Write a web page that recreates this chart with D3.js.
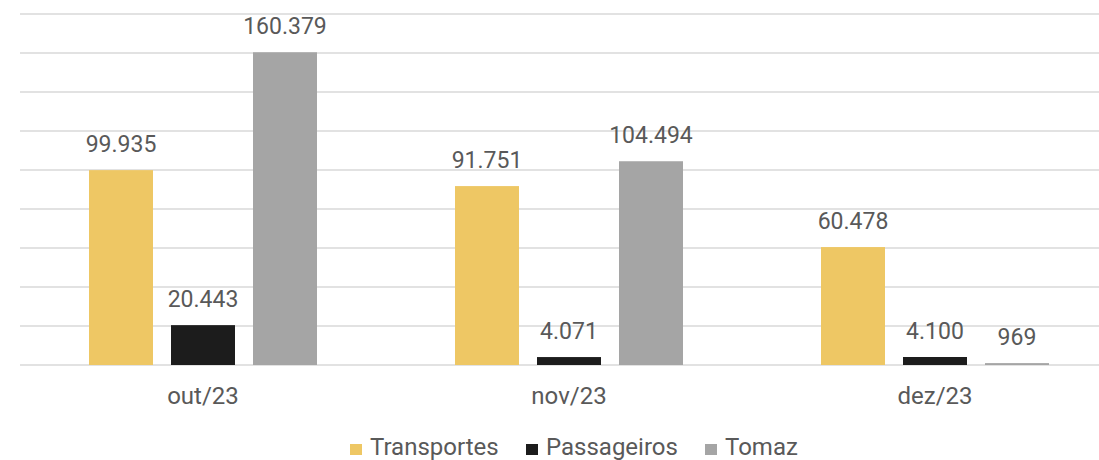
<!DOCTYPE html>
<meta charset="utf-8" />
<style>
  body { margin: 0; background: #fff; }
  text { font-family: Roboto, sans-serif; fill: #595959; }
  .grid line { stroke: #d9d9d9; stroke-width: 1.5px; }
</style>
<svg width="1099" height="460"></svg>
<script src="https://d3js.org/d3.v7.js"></script>
<script>
  var months = ["out/23", "nov/23", "dez/23"];
  var seriesNames = ["Transportes", "Passageiros", "Tomaz"];
  var transportes = [99935, 91751, 60478];
  var passageiros = [20443, 4071, 4100];
  var tomaz = [160379, 104494, 969];
  var colors = ["#eec764", "#1c1c1c", "#a5a5a5"];

  var values = [transportes, passageiros, tomaz];
  var fmt = function (v) {
    return d3.format(",")(v).replace(/,/g, ".");
  };

  var svg = d3.select("svg");

  var y = d3.scaleLinear().domain([0, 180000]).range([365, 14]);
  var x0 = d3.scaleBand().domain(months).range([20, 1118]);
  var x1 = d3.scaleBand().domain(seriesNames).range([69, 297]).paddingInner(0.2195);
  var color = d3.scaleOrdinal().domain(seriesNames).range(colors);

  svg.append("g").attr("class", "grid")
    .selectAll("line").data(y.ticks(9))
    .join("line")
    .attr("x1", 20).attr("x2", 1118)
    .attr("y1", function (d) { return y(d); })
    .attr("y2", function (d) { return y(d); });

  var groups = svg.append("g").selectAll("g").data(months)
    .join("g")
    .attr("transform", function (d) { return "translate(" + x0(d) + ",0)"; });

  groups.selectAll("rect")
    .data(function (m, i) {
      return seriesNames.map(function (s, j) { return { s: s, v: values[j][i] }; });
    })
    .join("rect")
    .attr("x", function (d) { return x1(d.s); })
    .attr("width", x1.bandwidth())
    .attr("y", function (d) { return y(d.v); })
    .attr("height", function (d) { return y(0) - y(d.v); })
    .attr("fill", function (d) { return color(d.s); });

  groups.selectAll("text.lbl")
    .data(function (m, i) {
      return seriesNames.map(function (s, j) { return { s: s, v: values[j][i] }; });
    })
    .join("text")
    .attr("class", "lbl")
    .attr("x", function (d) { return x1(d.s) + x1.bandwidth() / 2; })
    .attr("y", function (d) { return y(d.v) - 18; })
    .attr("text-anchor", "middle")
    .style("font-size", "23px")
    .text(function (d) { return fmt(d.v); });

  // x axis labels
  svg.append("g").selectAll("text").data(months)
    .join("text")
    .attr("x", function (d) { return x0(d) + 183; })
    .attr("y", 404)
    .attr("text-anchor", "middle")
    .style("font-size", "24px")
    .text(function (d) { return d; });

  // legend
  var legendX = [350, 526, 705];
  var legend = svg.append("g").selectAll("g").data(seriesNames)
    .join("g")
    .attr("transform", function (d, i) { return "translate(" + legendX[i] + ",444)"; });
  legend.append("rect")
    .attr("width", 12).attr("height", 11)
    .attr("fill", function (d) { return color(d); });
  legend.append("text")
    .attr("x", 20).attr("y", 11)
    .style("font-size", "24px")
    .text(function (d) { return d; });
</script>
